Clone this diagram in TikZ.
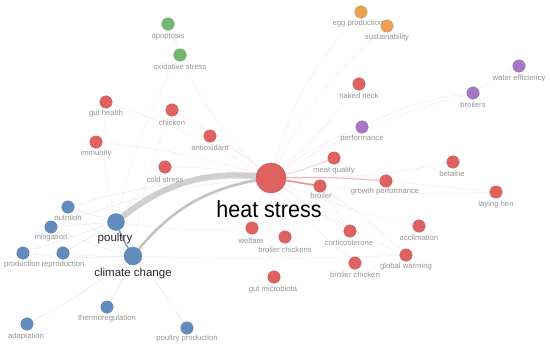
\documentclass[tikz,border=0pt]{standalone}
\usepackage{fontspec}
\setmainfont{Liberation Sans}
\pgfdeclarelayer{background}
\pgfsetlayers{background,main}
\definecolor{cr}{RGB}{222,98,98}
\definecolor{cb}{RGB}{98,140,190}
\definecolor{cg}{RGB}{114,182,112}
\definecolor{co}{RGB}{236,160,86}
\definecolor{cp}{RGB}{164,120,196}
\definecolor{lg}{RGB}{150,150,150}
\tikzset{
  nd/.style={circle, inner sep=0pt, minimum size=12.5pt, fill=#1, draw=#1!92!black, line width=0.3pt},
  lb/.style={font=\fontsize{7.7}{8}\selectfont, text=lg, inner sep=0pt},
  mid/.style={font=\fontsize{11.5}{12}\selectfont, text=black!85, inner sep=0pt},
  redge/.style={draw=cr!14, line width=0.5pt},
  gedge/.style={draw=black!6, line width=0.5pt},
  bedge/.style={draw=cb!18, line width=0.5pt}
}
\begin{document}
\begin{tikzpicture}[x=1pt,y=-1pt]
\path[use as bounding box] (0,0) rectangle (550,351);

% nodes
\node[nd=cr, minimum size=30pt] (hs) at (271,178) {};
\node[nd=cb, minimum size=17pt] (po) at (116,222) {};
\node[nd=cb, minimum size=18pt] (cc) at (133,256) {};

\node[nd=cg] (apo) at (168,24) {};
\node[nd=cg] (ox) at (180,55) {};
\node[nd=cr] (gh) at (106,102) {};
\node[nd=cr] (ch) at (172,110) {};
\node[nd=cr] (ao) at (210,136) {};
\node[nd=cr] (im) at (96,142) {};
\node[nd=cr] (cs) at (165,167) {};
\node[nd=co] (egg) at (361,12) {};
\node[nd=co] (sus) at (387,26) {};
\node[nd=cr] (nn) at (359,84) {};
\node[nd=cp] (brs) at (473,93) {};
\node[nd=cp] (we) at (519,66) {};
\node[nd=cp] (perf) at (362,127) {};
\node[nd=cr] (mq) at (334,158) {};
\node[nd=cr] (br) at (320,186) {};
\node[nd=cr] (gp) at (386,181) {};
\node[nd=cr] (bet) at (453,162) {};
\node[nd=cr] (lh) at (496,192) {};
\node[nd=cr] (wel) at (252,228) {};
\node[nd=cr] (brc) at (285,237) {};
\node[nd=cr] (cort) at (350,231) {};
\node[nd=cr] (acc) at (419,226) {};
\node[nd=cr] (gw) at (406,255) {};
\node[nd=cr] (brch) at (355,263) {};
\node[nd=cr] (gm) at (274,277) {};
\node[nd=cb] (nut) at (68,207) {};
\node[nd=cb] (mit) at (51,227) {};
\node[nd=cb] (prod) at (23,253) {};
\node[nd=cb] (rep) at (63,253) {};
\node[nd=cb] (thr) at (107,307) {};
\node[nd=cb] (ad) at (27,324) {};
\node[nd=cb] (pp) at (187,328) {};

% labels
\node[font=\fontsize{21.5}{22}\selectfont, text=black, inner sep=0pt, yscale=1.08] (hs-l) at (269,209) {heat stress};
\node[mid] (po-l) at (115,239) {poultry};
\node[mid] (cc-l) at (133,274) {climate change};
\node[lb] (apo-l) at (168,37) {apoptosis};
\node[lb] (ox-l) at (180,67) {oxidative stress};
\node[lb] (gh-l) at (106,114) {gut health};
\node[lb] (ch-l) at (172,123) {chicken};
\node[lb] (ao-l) at (210,148) {antioxidant};
\node[lb] (im-l) at (96,154) {immunity};
\node[lb] (cs-l) at (165,180) {cold stress};
\node[lb] (egg-l) at (358,24) {egg production};
\node[lb] (sus-l) at (387,38) {sustainability};
\node[lb] (nn-l) at (359,96) {naked neck};
\node[lb] (brs-l) at (473,105) {broilers};
\node[lb] (we-l) at (519,79) {water efficiency};
\node[lb] (perf-l) at (362,139) {performance};
\node[lb] (mq-l) at (334,171) {meat quality};
\node[lb] (br-l) at (321,196) {broiler};
\node[lb] (gp-l) at (385,192) {growth performance};
\node[lb] (bet-l) at (452,174) {betaine};
\node[lb] (lh-l) at (496,205) {laying hen};
\node[lb] (wel-l) at (251,241) {welfare};
\node[lb] (brc-l) at (285,250) {broiler chickens};
\node[lb] (cort-l) at (349,243) {corticosterone};
\node[lb] (acc-l) at (419,238) {acclimation};
\node[lb] (gw-l) at (406,267) {global warming};
\node[lb] (brch-l) at (355,275) {broiler chicken};
\node[lb] (gm-l) at (273,290) {gut microbiota};
\node[lb] (nut-l) at (68,218) {nutrition};
\node[lb] (mit-l) at (51,238) {mitigation};
\node[lb] (prod-l) at (22,265) {production};
\node[lb] (rep-l) at (63,265) {reproduction};
\node[lb] (thr-l) at (107,319) {thermoregulation};
\node[lb] (ad-l) at (26,337) {adaptation};
\node[lb] (pp-l) at (187,339) {poultry production};

% edges
\begin{pgfonlayer}{background}
\fill[white] (0,0) rectangle (550,351);
% red cluster to heat stress
\foreach \n in {gh,ch,ao,im,cs,nn,bet,lh,wel,brc,cort,acc,gw,brch,gm}
  \draw[redge] (hs.center) to[bend right=6] (\n.center);
\draw[draw=cr!35, line width=0.8pt] (hs.center) to[bend right=4] (mq.center);
\draw[draw=cr!65, line width=1.8pt] (hs.center) -- (br.center);
\draw[draw=cr!45, line width=1.1pt] (hs.center) to[bend left=3] (gp.center);
\draw[redge] (br.center) -- (cort.center);
\draw[redge] (br.center) to[bend left=5] (gw.center);
\draw[redge] (gp.center) -- (lh.center);
% other clusters
\draw[gedge] (hs.center) to[bend left=12] (ox.center);
\draw[gedge] (apo.center) -- (ox.center);
\draw[gedge] (ox.center) to[bend right=8] (po.center);
\draw[gedge] (hs.center) to[bend left=14] (egg.center);
\draw[gedge] (hs.center) to[bend left=12] (sus.center);
\draw[gedge] (hs.center) to[bend left=8] (perf.center);
\draw[gedge] (hs.center) to[bend left=8] (brs.center);
\draw[gedge] (perf.center) to[bend left=10] (brs.center);
\draw[gedge] (brs.center) -- (we.center);
\draw[gedge] (cc.center) to[bend right=2] (gw.center);
\draw[gedge] (po.center) to[bend left=6] (cs.center);
\draw[gedge] (po.center) to[bend left=10] (gh.center);
\draw[gedge] (cc.center) to[bend left=8] (ch.center);
\draw[gedge] (po.center) to[bend right=6] (wel.center);
% blue cluster
\foreach \n in {nut,mit,prod,rep}
  \draw[bedge] (po.center) -- (\n.center);
\foreach \n in {nut,mit,prod,rep,ad,thr,pp}
  \draw[bedge] (cc.center) to[bend left=5] (\n.center);
\draw[bedge] (nut.center) to[bend left=8] (hs.center);
\draw[bedge] (mit.center) to[bend left=8] (hs.center);
% strong edges
\draw[draw=black!19, line width=6pt] (po.center) to[bend left=24] (hs.center);
\draw[draw=black!24, line width=2.6pt] (cc.center) to[bend left=22] (hs.center);
\draw[draw=cb!80, line width=1.6pt] (po.center) to[bend right=6] (cc.center);
\end{pgfonlayer}
\end{tikzpicture}
\end{document}
